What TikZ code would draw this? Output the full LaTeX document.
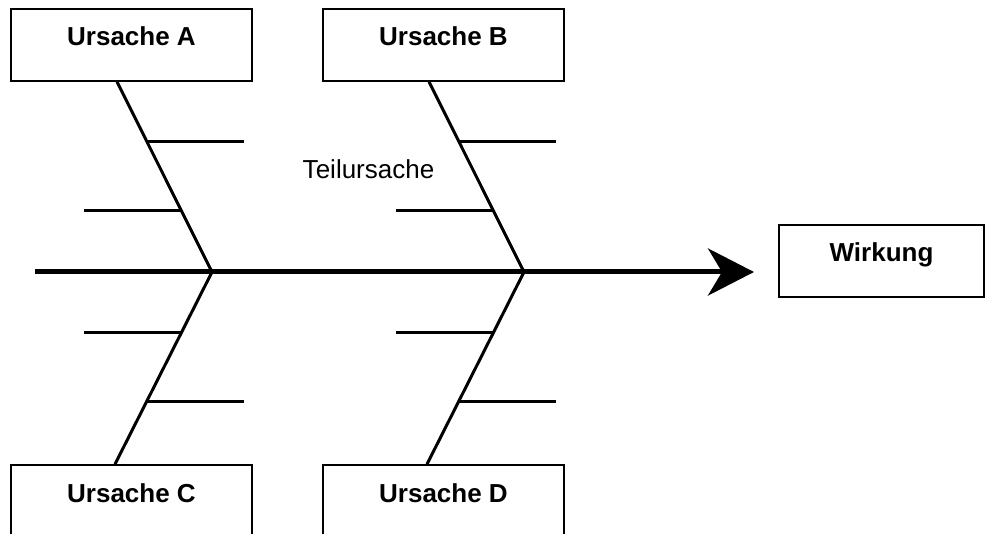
\documentclass[tikz,border=0pt]{standalone}
\usepackage{fontspec}
\setmainfont{Liberation Sans}
\usetikzlibrary{arrows.meta}

\tikzset{
  causebox/.style={draw, line width=1.6pt, inner sep=0pt, minimum width=241pt,
    text height=37pt, text depth=35pt,
    font=\fontsize{26}{31}\selectfont\bfseries},
  bone/.style={line width=3pt},
  twig/.style={line width=3pt},
  mainbone/.style={line width=5pt, -{Stealth[length=46pt,width=47pt,inset=14pt]}},
  note/.style={font=\fontsize{26}{31}\selectfont, inner sep=0pt}
}

\begin{document}
\begin{tikzpicture}[x=1pt,y=-1pt]
  \useasboundingbox (0,0) rectangle (985,534);
  \clip (0,0) rectangle (985,534);

  % cause and effect boxes
  \node[causebox] (A) at (131.5,45) {Ursache A};
  \node[causebox] (B) at (443.5,45) {Ursache B};
  \node[causebox] (C) at (131.5,501) {Ursache C};
  \node[causebox] (D) at (443.5,501) {Ursache D};
  \node[causebox, minimum width=205pt] (W) at (881.5,261) {Wirkung};

  % main bone
  \coordinate (tail) at (35,272);
  \coordinate (tip) at (754,272);
  \coordinate (jA) at (212,272);
  \coordinate (jB) at (524,272);
  \draw[mainbone] (tail) -- (tip);

  % main cause bones, with the sub-cause positions along them
  \draw[bone] ([xshift=-14.5pt]A.south) -- (jA)
    coordinate[pos=0.314] (a1) coordinate[pos=0.675] (a2);
  \draw[bone] ([xshift=-14.5pt]B.south) -- (jB)
    coordinate[pos=0.314] (b1) coordinate[pos=0.675] (b2);
  \draw[bone] (jA) -- ([xshift=-16.5pt]C.north)
    coordinate[pos=0.316] (c1) coordinate[pos=0.674] (c2);
  \draw[bone] (jB) -- ([xshift=-16.5pt]D.north)
    coordinate[pos=0.316] (d1) coordinate[pos=0.674] (d2);

  % sub-cause twigs
  \draw[twig] (a1) -- ++(97,0);
  \draw[twig] (a2) -- ++(-97,0);
  \draw[twig] (b1) -- ++(97,0);
  \draw[twig] (b2) -- ++(-97,0);
  \draw[twig] (c1) -- ++(-97,0);
  \draw[twig] (c2) -- ++(97,0);
  \draw[twig] (d1) -- ++(-97,0);
  \draw[twig] (d2) -- ++(97,0);

  \node[note] (sub) at (368.5,169) {Teilursache};
\end{tikzpicture}
\end{document}
